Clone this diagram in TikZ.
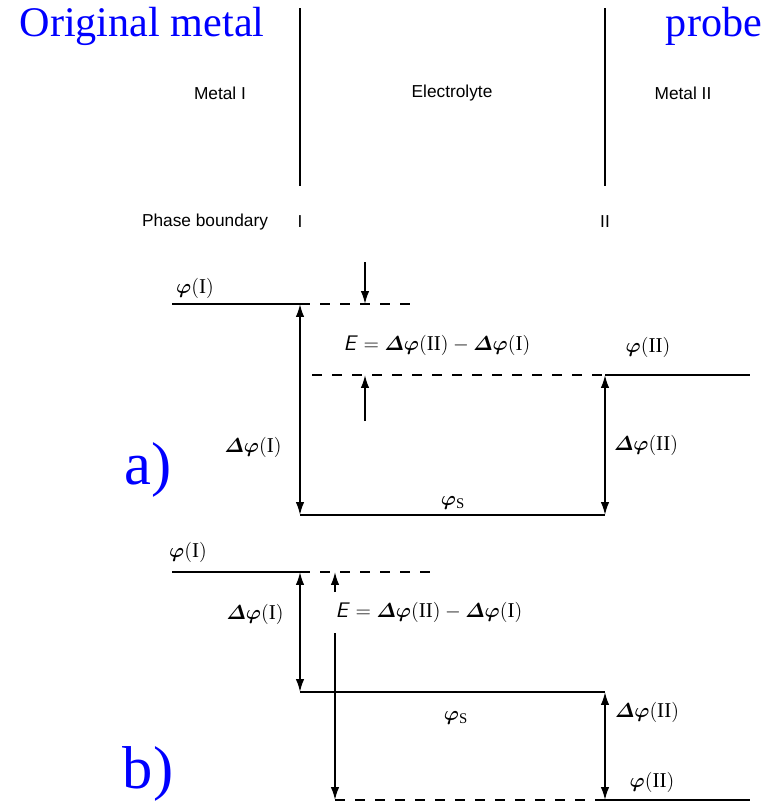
\documentclass[tikz,border=0pt]{standalone}
\usepackage{amsmath}
\usepackage{fontspec}
\usepackage{bm}
\setmainfont{Liberation Serif}
\newfontfamily\lblsans{Liberation Sans}
\usetikzlibrary{arrows.meta}
\tikzset{
  wire/.style={line width=1.2pt},
  dwire/.style={line width=1pt, dash pattern=on 2.4mm off 2.6mm},
  arr/.style={wire, -{Latex[length=3.2mm,width=2.1mm]}},
  darr/.style={wire, {Latex[length=3.2mm,width=2.1mm]}-{Latex[length=3.2mm,width=2.1mm]}},
  blue/.style={text=blue, font=\fontsize{30}{34}\selectfont, inner sep=0pt},
  part/.style={text=blue, font=\fontsize{43}{48}\selectfont, inner sep=0pt},
  sans/.style={font=\lblsans\fontsize{12.3}{14}\selectfont, inner sep=0pt},
  math/.style={font=\fontsize{15}{17}\selectfont, inner sep=0pt}
}
\newcommand{\phiB}{\bm{\varphi}}
\newcommand{\dphiB}{\bm{\varDelta\varphi}}
\newcommand{\EE}{\textsf{\textit{E}}}
\begin{document}
\begin{tikzpicture}[x=0.025cm, y=-0.025cm]
\useasboundingbox (0,0) rectangle (778,804);
% headings
\node[blue] (orig) at (142,26) {Original metal};
\node[blue] (probe) at (714,26) {probe};
\node[sans] (m1) at (220,93) {Metal I};
\node[sans] (el) at (452,93) {Electrolyte};
\node[sans] (m2) at (683,93) {Metal II};
\node[sans] (pb) at (205,222) {Phase boundary};
\node[sans] (pb1) at (300,222) {I};
\node[sans] (pb2) at (605,222) {II};
% boundaries
\coordinate (t1a) at (300,8); \coordinate (t1b) at (300,186);
\coordinate (t2a) at (605,8); \coordinate (t2b) at (605,186);
\draw[wire] (t1a) -- (t1b);
\draw[wire] (t2a) -- (t2b);
% ---------- a) ----------
\coordinate (aL) at (172,304); \coordinate (aI) at (300,304);
\coordinate (aD1) at (420,304);
\coordinate (aS1) at (300,515); \coordinate (aS2) at (605,515);
\coordinate (aII) at (605,375); \coordinate (aR) at (750,375);
\coordinate (aD2) at (312,375);
\coordinate (aT1) at (365,262); \coordinate (aT2) at (365,304);
\coordinate (aB1) at (365,421); \coordinate (aB2) at (365,375);
\draw[wire] (aL) -- (aI);
\draw[dwire] (aI) -- (aD1);
\draw[wire] (aS1) -- (aS2);
\draw[dwire] (aD2) -- (aII);
\draw[wire] (aII) -- (aR);
\draw[darr] (aS1) -- (aI);
\draw[darr] (aS2) -- (aII);
\draw[arr] (aT1) -- (aT2);
\draw[arr] (aB1) -- (aB2);
\node[math] (aphi1) at (195,288) {$\phiB\mathrm{(I)}$};
\node[math] (aE) at (437,345) {$\EE = \dphiB\mathrm{(II)} - \dphiB\mathrm{(I)}$};
\node[math] (aphi2) at (648,347) {$\phiB\mathrm{(II)}$};
\node[math] (adphi1) at (253,447) {$\dphiB\mathrm{(I)}$};
\node[math] (adphi2) at (646,445) {$\dphiB\mathrm{(II)}$};
\node[math] (aphis) at (453,503) {$\phiB_{\mathrm{S}}$};
\node[part] (alab) at (148,470) {a)};
% ---------- b) ----------
\coordinate (bL) at (172,572); \coordinate (bI) at (300,572);
\coordinate (bD1) at (430,572);
\coordinate (bS1) at (300,692); \coordinate (bS2) at (605,692);
\coordinate (bII) at (605,800); \coordinate (bR) at (750,800);
\coordinate (bD2) at (335,800);
\coordinate (bT1) at (335,592); \coordinate (bT2) at (335,572);
\coordinate (bB1) at (335,633);
\draw[wire] (bL) -- (bI);
\draw[dwire] (bI) -- (bD1);
\draw[wire] (bS1) -- (bS2);
\draw[dwire] (bD2) -- (bII);
\draw[wire] (bII) -- (bR);
\draw[darr] (bS1) -- (bI);
\draw[darr] (bII) -- (bS2);
\draw[arr] (bT1) -- (bT2);
\draw[arr] (bB1) -- (bD2);
\node[math] (bphi1) at (188,552) {$\phiB\mathrm{(I)}$};
\node[math] (bdphi1) at (255,614) {$\dphiB\mathrm{(I)}$};
\node[math] (bE) at (429,612) {$\EE = \dphiB\mathrm{(II)} - \dphiB\mathrm{(I)}$};
\node[math] (bphis) at (456,718) {$\phiB_{\mathrm{S}}$};
\node[math] (bdphi2) at (647,712) {$\dphiB\mathrm{(II)}$};
\node[math] (bphi2) at (652,782) {$\phiB\mathrm{(II)}$};
\node[part] (blab) at (148,774) {b)};
\end{tikzpicture}
\end{document}
